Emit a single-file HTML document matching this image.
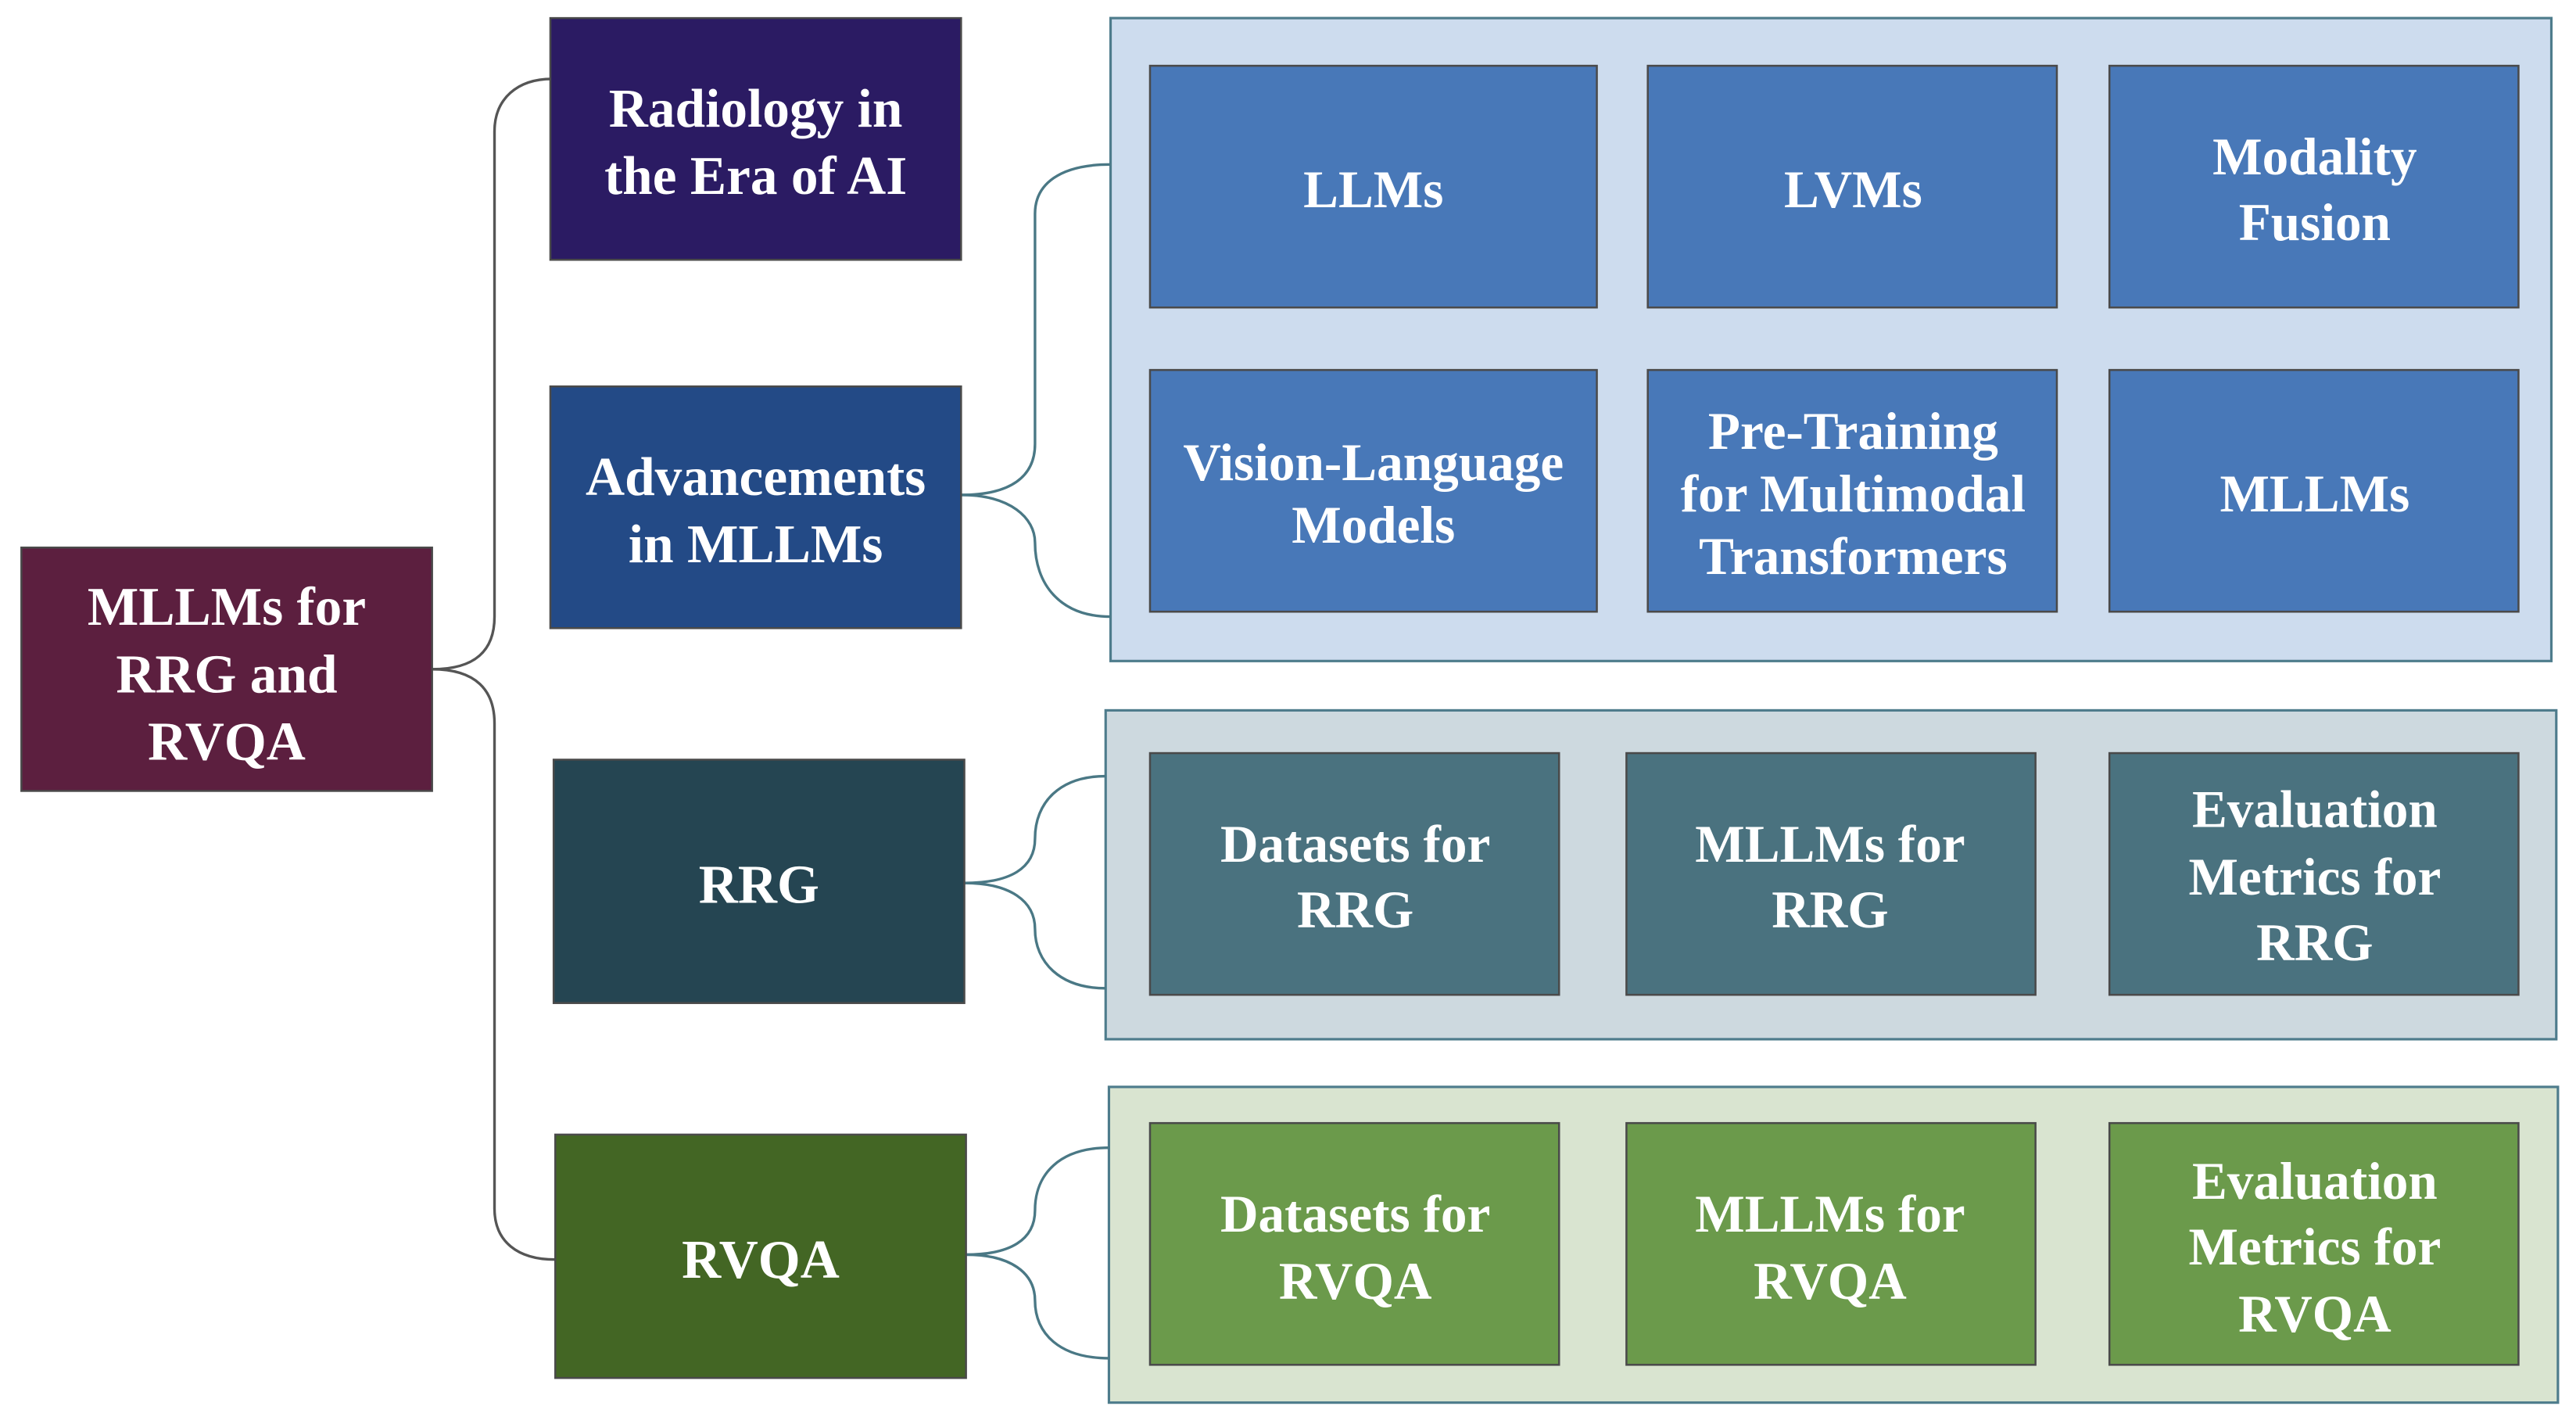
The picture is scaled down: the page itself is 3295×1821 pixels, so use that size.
<!DOCTYPE html>
<html><head><meta charset="utf-8"><style>
html,body{margin:0;padding:0;background:#fff;}
svg{display:block;}
text{font-family:"Liberation Serif",serif;font-weight:bold;fill:#fff;text-anchor:middle;}
</style></head><body>
<svg width="3295" height="1821" viewBox="0 0 1568 866" preserveAspectRatio="none" xmlns="http://www.w3.org/2000/svg">
<!-- panels -->
<rect x="676" y="11" width="877" height="391" fill="#cddcee" stroke="#4e7c8c" stroke-width="1.5"/>
<rect x="673" y="432" width="883" height="200" fill="#cdd9df" stroke="#4e7c8c" stroke-width="1.5"/>
<rect x="675" y="661" width="882" height="192" fill="#d9e4d0" stroke="#4e7c8c" stroke-width="1.5"/>

<!-- connectors -->
<g fill="none" stroke="#555" stroke-width="1.6">
<path d="M263,407 C290,407 301,395 301,375 L301,80 C301,60 315,48 336,48"/>
<path d="M263,407 C290,407 301,420 301,440 L301,735 C301,755 315,766 338,766"/>
</g>
<g fill="none" stroke="#4a7885" stroke-width="1.6">
<path d="M585,301 C615,301 630,290 630,270 L630,130 C630,112 645,100 676,100"/>
<path d="M585,301 C615,301 630,315 630,330 C630,355 645,375 676,375"/>
<path d="M587,537 C615,537 630,528 630,510 C630,488 645,472 673,472"/>
<path d="M587,537 C615,537 630,548 630,565 C630,585 645,601 673,601"/>
<path d="M588,763 C615,763 630,754 630,736 C630,714 645,698 675,698"/>
<path d="M588,763 C615,763 630,774 630,791 C630,811 645,826 675,826"/>
</g>

<!-- main boxes -->
<g stroke="#4a4a4a" stroke-width="1.2">
<rect x="13" y="333" width="250" height="148" fill="#5c1f3f"/>
<rect x="335" y="11" width="250" height="147" fill="#2b1b63"/>
<rect x="335" y="235" width="250" height="147" fill="#234a86"/>
<rect x="337" y="462" width="250" height="148" fill="#254552"/>
<rect x="338" y="690" width="250" height="148" fill="#436624"/>
<!-- blue inner -->
<rect x="700" y="40" width="272" height="147" fill="#4878b8"/>
<rect x="1003" y="40" width="249" height="147" fill="#4878b8"/>
<rect x="1284" y="40" width="249" height="147" fill="#4878b8"/>
<rect x="700" y="225" width="272" height="147" fill="#4878b8"/>
<rect x="1003" y="225" width="249" height="147" fill="#4878b8"/>
<rect x="1284" y="225" width="249" height="147" fill="#4878b8"/>
<!-- gray inner -->
<rect x="700" y="458" width="249" height="147" fill="#4a727f"/>
<rect x="990" y="458" width="249" height="147" fill="#4a727f"/>
<rect x="1284" y="458" width="249" height="147" fill="#4a727f"/>
<!-- green inner -->
<rect x="700" y="683" width="249" height="147" fill="#6b9a4b"/>
<rect x="990" y="683" width="249" height="147" fill="#6b9a4b"/>
<rect x="1284" y="683" width="249" height="147" fill="#6b9a4b"/>
</g>

<!-- text -->
<g font-size="33">
<text x="138" y="380">MLLMs for</text>
<text x="138" y="421">RRG and</text>
<text x="138" y="462">RVQA</text>
<text x="460" y="77">Radiology in</text>
<text x="460" y="118">the Era of AI</text>
<text x="460" y="301">Advancements</text>
<text x="460" y="342">in MLLMs</text>
<text x="462" y="549">RRG</text>
<text x="463" y="777">RVQA</text>
</g>
<g font-size="32">
<text x="836" y="126">LLMs</text>
<text x="1128" y="126">LVMs</text>
<text x="1409" y="106">Modality</text>
<text x="1409" y="146">Fusion</text>
<text x="836" y="292">Vision-Language</text>
<text x="836" y="330">Models</text>
<text x="1128" y="273">Pre-Training</text>
<text x="1128" y="311">for Multimodal</text>
<text x="1128" y="349">Transformers</text>
<text x="1409" y="311">MLLMs</text>
<text x="825" y="524">Datasets for</text>
<text x="825" y="564">RRG</text>
<text x="1114" y="524">MLLMs for</text>
<text x="1114" y="564">RRG</text>
<text x="1409" y="503">Evaluation</text>
<text x="1409" y="544">Metrics for</text>
<text x="1409" y="584">RRG</text>
<text x="825" y="749">Datasets for</text>
<text x="825" y="790">RVQA</text>
<text x="1114" y="749">MLLMs for</text>
<text x="1114" y="790">RVQA</text>
<text x="1409" y="729">Evaluation</text>
<text x="1409" y="769">Metrics for</text>
<text x="1409" y="810">RVQA</text>
</g>
</svg>
</body></html>
